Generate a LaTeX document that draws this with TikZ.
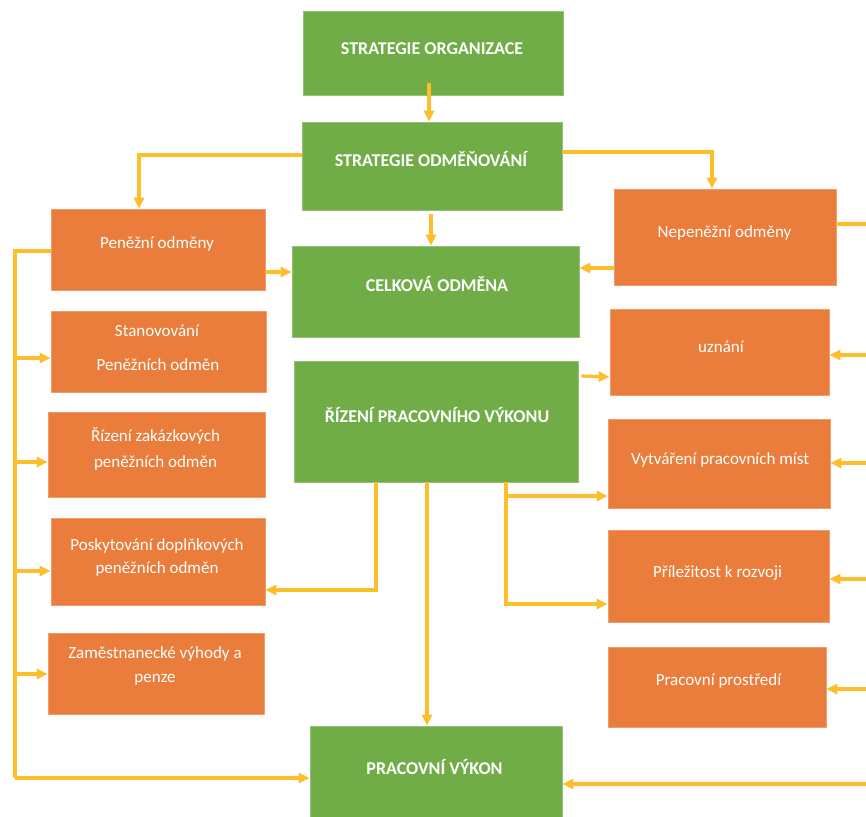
\documentclass[tikz,border=0pt]{standalone}
\usepackage{fontspec}
\setmainfont{Carlito}
\usetikzlibrary{arrows.meta,calc}

\definecolor{boxgreen}{HTML}{70AD47}
\definecolor{boxorange}{HTML}{EB7D3C}
\definecolor{flowgold}{HTML}{FDBE2C}

\tikzset{
  gbox/.style={fill=boxgreen, draw=boxgreen!75!white, line width=0.7pt, inner sep=0pt},
  obox/.style={fill=boxorange, draw=boxorange!75!white, line width=0.7pt, inner sep=0pt},
  gtxt/.style={text=white, font=\fontsize{18}{21}\selectfont\bfseries, anchor=base, inner sep=0pt},
  otxt/.style={text=white, font=\fontsize{17}{20}\selectfont, anchor=base, inner sep=0pt},
  wire/.style={draw=flowgold, line width=3.2pt},
  arr/.style={wire, -{Triangle[length=11pt,width=10pt]}},
}

\begin{document}
\begin{tikzpicture}[x=1pt,y=-1pt]
\useasboundingbox[fill=white] (0,0) rectangle (866,816);

% green boxes (main chain)
\node[gbox, minimum width=260, minimum height=84] (so)  at (433,53)    {};
\node[gbox, minimum width=260, minimum height=88] (sod) at (432,166)   {};
\node[gbox, minimum width=287, minimum height=91] (co)  at (435.5,291.5) {};
\node[gbox, minimum width=284, minimum height=121] (rpv) at (436,421.5) {};
\node[gbox, minimum width=252, minimum height=94] (pv)  at (436,773)   {};

% orange boxes, left column (financial rewards)
\node[obox, minimum width=214, minimum height=81] (po) at (158,249.5)   {};
\node[obox, minimum width=215, minimum height=81] (st) at (158.5,351.5) {};
\node[obox, minimum width=217, minimum height=85] (rz) at (156.5,454.5) {};
\node[obox, minimum width=214, minimum height=87] (pd) at (158,561.5)   {};
\node[obox, minimum width=216, minimum height=81] (zv) at (156,673.5)   {};

% orange boxes, right column (non-financial rewards)
\node[obox, minimum width=222, minimum height=96] (no) at (725,237)    {};
\node[obox, minimum width=219, minimum height=86] (uz) at (719.5,352)  {};
\node[obox, minimum width=222, minimum height=89] (vp) at (719,463.5)  {};
\node[obox, minimum width=221, minimum height=92] (pr) at (718.5,576)  {};
\node[obox, minimum width=218, minimum height=80] (pp) at (717,687)    {};

% labels
\node[gtxt] (so-t)  at (432,54)  {STRATEGIE ORGANIZACE};
\node[gtxt] (sod-t) at (431,166) {STRATEGIE ODMĚŇOVÁNÍ};
\node[gtxt] (co-t)  at (437,291) {CELKOVÁ ODMĚNA};
\node[gtxt] (rpv-t) at (437,422) {ŘÍZENÍ PRACOVNÍHO VÝKONU};
\node[gtxt] (pv-t)  at (434.5,774) {PRACOVNÍ VÝKON};

\node[otxt] (po-t)  at (157,248) {Peněžní odměny};
\node[otxt] (st-t1) at (157,336) {Stanovování};
\node[otxt] (st-t2) at (158,370) {Peněžních odměn};
\node[otxt] (rz-t1) at (155.5,441) {Řízení zakázkových};
\node[otxt] (rz-t2) at (155.5,467) {peněžních odměn};
\node[otxt] (pd-t1) at (157,550) {Poskytování doplňkových};
\node[otxt] (pd-t2) at (157,573) {peněžních odměn};
\node[otxt] (zv-t1) at (155,658) {Zaměstnanecké výhody a};
\node[otxt] (zv-t2) at (155,682) {penze};

\node[otxt] (no-t) at (724.5,237) {Nepeněžní odměny};
\node[otxt] (uz-t) at (721,352)   {uznání};
\node[otxt] (vp-t) at (720,464)   {Vytváření pracovních míst};
\node[otxt] (pr-t) at (717.5,577) {Příležitost k rozvoji};
\node[otxt] (pp-t) at (718.5,685) {Pracovní prostředí};

% top of the chain
\draw[arr] ([shift={(-4,-12)}]so.south) -- ([xshift=-3]sod.north);
\draw[arr] (sod.west |- 0,155) -| (po.north -| 139,0);
\draw[arr] (sod.east |- 0,152) -| (no.north -| 712,0);
\draw[arr] ([yshift=-4]sod.south -| 431,0) -- (co.north -| 431,0);
\draw[arr] (po.east |- 0,272) -- (co.west |- 0,272);
\draw[arr] (no.west |- 0,268) -- (co.east |- 0,268);

% performance management outputs
\draw[arr] ([xshift=3]rpv.east |- 0,376) -- (uz.west |- 0,377);
\draw[arr] (rpv.south -| 376,0) |- (pd.east |- 0,590);
\draw[arr] (rpv.south -| 427,0) -- (pv.north -| 427,0);
\coordinate (rj) at (506,496);
\draw[arr] (rpv.south -| 506,0) |- (pr.west |- 0,604);
\draw[arr] (rj) -- (vp.west |- rj);

% left distribution line
\coordinate (lt) at (15,251);
\coordinate (lb) at (15,778);
\draw[wire] (po.west |- lt) -- (lt) -- (lb);
\draw[arr] (lb) -- (pv.west |- lb);
\draw[arr] (lt |- 0,358) -- (st.west |- 0,358);
\draw[arr] (lt |- 0,462) -- (rz.west |- 0,462);
\draw[arr] (lt |- 0,571) -- (pd.west |- 0,571);
\draw[arr] (lt |- 0,674) -- (zv.west |- 0,674);

% right distribution line (runs along the right edge)
\coordinate (r1) at (866,224);
\coordinate (r2) at (866,355);
\coordinate (r3) at (866,463);
\coordinate (r4) at (866,579);
\coordinate (r5) at (866,689);
\coordinate (r6) at (866,784);
\draw[wire] (no.east |- r1) -- (r1);
\draw[arr] (r2) -- (uz.east |- r2);
\draw[arr] (r3) -- (vp.east |- r3);
\draw[arr] (r4) -- (pr.east |- r4);
\draw[arr] (r5) -- (pp.east |- r5);
\draw[arr] (r6) -- (pv.east |- r6);
\end{tikzpicture}
\end{document}
